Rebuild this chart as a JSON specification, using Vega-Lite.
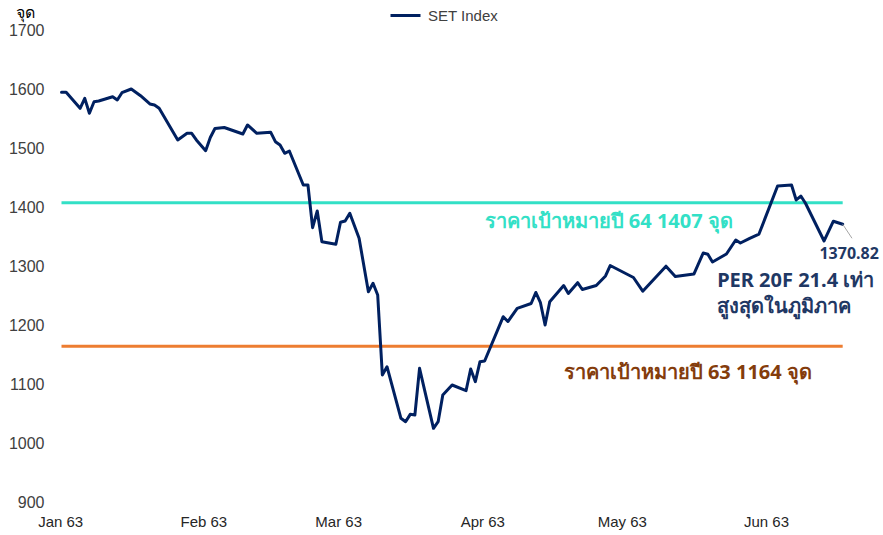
{
  "$schema": "https://vega.github.io/schema/vega-lite/v6.json",
  "width": 823,
  "height": 472,
  "autosize": {"type": "none"},
  "padding": {"left": 60, "top": 30, "right": 0, "bottom": 33},
  "background": "white",
  "config": {"view": {"stroke": null}, "font": "Liberation Sans"},
  "datasets": {
    "set": [
      {"date": "2020-01-02", "close": 1594.4},
      {"date": "2020-01-03", "close": 1594.4},
      {"date": "2020-01-06", "close": 1567.3},
      {"date": "2020-01-07", "close": 1584.2},
      {"date": "2020-01-08", "close": 1558.8},
      {"date": "2020-01-09", "close": 1578.5},
      {"date": "2020-01-10", "close": 1579.7},
      {"date": "2020-01-13", "close": 1586.9},
      {"date": "2020-01-14", "close": 1581.4},
      {"date": "2020-01-15", "close": 1593.7},
      {"date": "2020-01-17", "close": 1600.0},
      {"date": "2020-01-19", "close": 1588.6},
      {"date": "2020-01-21", "close": 1574.6},
      {"date": "2020-01-22", "close": 1572.9},
      {"date": "2020-01-23", "close": 1567.3},
      {"date": "2020-01-27", "close": 1513.6},
      {"date": "2020-01-29", "close": 1524.9},
      {"date": "2020-01-30", "close": 1524.9},
      {"date": "2020-01-31", "close": 1513.6},
      {"date": "2020-02-02", "close": 1495.4},
      {"date": "2020-02-03", "close": 1517.8},
      {"date": "2020-02-04", "close": 1533.1},
      {"date": "2020-02-06", "close": 1534.7},
      {"date": "2020-02-10", "close": 1523.7},
      {"date": "2020-02-11", "close": 1539.0},
      {"date": "2020-02-13", "close": 1524.9},
      {"date": "2020-02-16", "close": 1526.6},
      {"date": "2020-02-17", "close": 1510.7},
      {"date": "2020-02-18", "close": 1505.1},
      {"date": "2020-02-19", "close": 1491.0},
      {"date": "2020-02-20", "close": 1494.9},
      {"date": "2020-02-23", "close": 1437.3},
      {"date": "2020-02-24", "close": 1437.3},
      {"date": "2020-02-25", "close": 1364.9},
      {"date": "2020-02-26", "close": 1393.2},
      {"date": "2020-02-27", "close": 1341.2},
      {"date": "2020-03-01", "close": 1336.8},
      {"date": "2020-03-02", "close": 1374.1},
      {"date": "2020-03-03", "close": 1376.3},
      {"date": "2020-03-04", "close": 1389.3},
      {"date": "2020-03-06", "close": 1346.9},
      {"date": "2020-03-08", "close": 1256.4},
      {"date": "2020-03-09", "close": 1270.7},
      {"date": "2020-03-10", "close": 1250.8},
      {"date": "2020-03-11", "close": 1115.3},
      {"date": "2020-03-12", "close": 1129.3},
      {"date": "2020-03-15", "close": 1041.9},
      {"date": "2020-03-16", "close": 1036.1},
      {"date": "2020-03-17", "close": 1048.6},
      {"date": "2020-03-18", "close": 1047.5},
      {"date": "2020-03-19", "close": 1126.6},
      {"date": "2020-03-22", "close": 1024.9},
      {"date": "2020-03-23", "close": 1036.1},
      {"date": "2020-03-24", "close": 1081.4},
      {"date": "2020-03-26", "close": 1098.3},
      {"date": "2020-03-29", "close": 1088.6},
      {"date": "2020-03-30", "close": 1125.4},
      {"date": "2020-03-31", "close": 1103.9},
      {"date": "2020-04-01", "close": 1137.8},
      {"date": "2020-04-02", "close": 1139.0},
      {"date": "2020-04-06", "close": 1214.1},
      {"date": "2020-04-07", "close": 1205.9},
      {"date": "2020-04-09", "close": 1228.3},
      {"date": "2020-04-12", "close": 1236.4},
      {"date": "2020-04-13", "close": 1255.1},
      {"date": "2020-04-14", "close": 1237.8},
      {"date": "2020-04-15", "close": 1200.0},
      {"date": "2020-04-16", "close": 1239.5},
      {"date": "2020-04-19", "close": 1266.9},
      {"date": "2020-04-20", "close": 1253.4},
      {"date": "2020-04-22", "close": 1271.7},
      {"date": "2020-04-23", "close": 1260.2},
      {"date": "2020-04-26", "close": 1266.9},
      {"date": "2020-04-28", "close": 1283.1},
      {"date": "2020-04-29", "close": 1300.8},
      {"date": "2020-05-04", "close": 1280.5},
      {"date": "2020-05-06", "close": 1257.3},
      {"date": "2020-05-11", "close": 1299.7},
      {"date": "2020-05-13", "close": 1282.2},
      {"date": "2020-05-17", "close": 1286.4},
      {"date": "2020-05-19", "close": 1322.0},
      {"date": "2020-05-20", "close": 1319.8},
      {"date": "2020-05-21", "close": 1306.8},
      {"date": "2020-05-24", "close": 1320.3},
      {"date": "2020-05-26", "close": 1344.1},
      {"date": "2020-05-27", "close": 1339.0},
      {"date": "2020-05-29", "close": 1346.9},
      {"date": "2020-05-31", "close": 1354.2},
      {"date": "2020-06-04", "close": 1435.6},
      {"date": "2020-06-07", "close": 1437.3},
      {"date": "2020-06-08", "close": 1411.9},
      {"date": "2020-06-09", "close": 1418.6},
      {"date": "2020-06-10", "close": 1406.3},
      {"date": "2020-06-14", "close": 1342.4},
      {"date": "2020-06-16", "close": 1375.9},
      {"date": "2020-06-18", "close": 1370.82}
    ],
    "targets": [
      {"year": "64", "value": 1407, "start": "2020-01-02", "end": "2020-06-18", "label": "ราคาเป้าหมายปี 64 1407 จุด", "labelDate": "2020-04-02", "labelValue": 1374},
      {"year": "63", "value": 1164, "start": "2020-01-02", "end": "2020-06-18", "label": "ราคาเป้าหมายปี 63 1164 จุด", "labelDate": "2020-04-19", "labelValue": 1118}
    ],
    "notes": [
      {"label": "PER 20F 21.4 เท่า", "date": "2020-05-22", "value": 1274},
      {"label": "สูงสุดในภูมิภาค", "date": "2020-05-22", "value": 1230}
    ],
    "last": [
      {"label": "1370.82", "date": "2020-06-18", "value": 1370.82, "labelDate": "2020-06-13", "labelValue": 1321, "tipDate": "2020-06-20", "tipValue": 1347}
    ]
  },
  "layer": [
    {
      "data": {"name": "targets"},
      "transform": [{"filter": "datum.year === '64'"}],
      "mark": {"type": "rule", "color": "#33E0C6", "strokeWidth": 3},
      "encoding": {
        "x": {"field": "start", "type": "temporal", "title": null},
        "x2": {"field": "end"},
        "y": {"field": "value", "type": "quantitative", "title": "จุด"}
      }
    },
    {
      "data": {"name": "targets"},
      "transform": [{"filter": "datum.year === '63'"}],
      "mark": {"type": "rule", "color": "#ED7D31", "strokeWidth": 3},
      "encoding": {
        "x": {"field": "start", "type": "temporal", "title": null},
        "x2": {"field": "end"},
        "y": {"field": "value", "type": "quantitative", "title": "จุด"}
      }
    },
    {
      "data": {"name": "set"},
      "mark": {"type": "line", "strokeWidth": 3, "strokeJoin": "round", "strokeCap": "round"},
      "encoding": {
        "x": {
          "field": "date", "type": "temporal", "title": null,
          "scale": {"type": "utc", "domain": [{"year": 2020, "month": 1, "date": 1, "hours": 16, "minutes": 15, "utc": true}, {"year": 2020, "month": 6, "date": 26, "hours": 16, "minutes": 5, "utc": true}]},
          "axis": {
            "values": [
              {"year": 2020, "month": 1, "date": 1, "hours": 17, "utc": true},
              {"year": 2020, "month": 2, "date": 1, "hours": 12, "utc": true},
              {"year": 2020, "month": 3, "date": 1, "hours": 12, "utc": true},
              {"year": 2020, "month": 4, "date": 1, "hours": 12, "utc": true},
              {"year": 2020, "month": 5, "date": 1, "hours": 12, "utc": true},
              {"year": 2020, "month": 6, "date": 1, "hours": 12, "utc": true}
            ],
            "labelExpr": "utcFormat(datum.value, '%b') + ' ' + ((utcyear(datum.value) + 543) % 100)",
            "domain": false, "ticks": false, "grid": false,
            "labelFont": "Liberation Sans", "labelFontSize": 15, "labelColor": "#262626",
            "labelPadding": 12, "labelFlush": false, "labelOverlap": false
          }
        },
        "y": {
          "field": "close", "type": "quantitative", "title": "จุด",
          "scale": {"domain": [900, 1700], "nice": false, "zero": false},
          "axis": {
            "values": [900, 1000, 1100, 1200, 1300, 1400, 1500, 1600, 1700],
            "format": "d",
            "domain": false, "ticks": false, "grid": false,
            "labelFont": "Liberation Sans", "labelFontSize": 16, "labelColor": "#404040",
            "labelPadding": 16,
            "titleAngle": 0, "titleAlign": "left", "titleBaseline": "middle",
            "titleX": -45, "titleY": -18, "titleFontSize": 16, "titleFontWeight": "normal", "titleColor": "#000000"
          }
        },
        "color": {
          "datum": "SET Index",
          "scale": {"range": ["#002060"]},
          "legend": {
            "orient": "none", "legendX": 329, "legendY": -31, "title": null,
            "symbolType": "stroke", "symbolSize": 900, "symbolStrokeWidth": 3,
            "labelFont": "Liberation Sans", "labelFontSize": 15, "labelColor": "#404040", "labelOffset": 6
          }
        }
      }
    },
    {
      "data": {"name": "last"},
      "mark": {"type": "rule", "color": "#A6A6A6", "strokeWidth": 1},
      "encoding": {
        "x": {"field": "date", "type": "temporal", "title": null},
        "x2": {"field": "tipDate"},
        "y": {"field": "value", "type": "quantitative", "title": "จุด"},
        "y2": {"field": "tipValue"}
      }
    },
    {
      "data": {"name": "targets"},
      "transform": [{"filter": "datum.year === '64'"}],
      "mark": {"type": "text", "align": "left", "baseline": "middle", "font": "Noto Sans", "fontSize": 20, "fontWeight": "bold", "color": "#33E0C6"},
      "encoding": {
        "x": {"field": "labelDate", "type": "temporal", "title": null},
        "y": {"field": "labelValue", "type": "quantitative", "title": "จุด"},
        "text": {"field": "label"}
      }
    },
    {
      "data": {"name": "targets"},
      "transform": [{"filter": "datum.year === '63'"}],
      "mark": {"type": "text", "align": "left", "baseline": "middle", "font": "Noto Sans", "fontSize": 20, "fontWeight": "bold", "color": "#843C0C"},
      "encoding": {
        "x": {"field": "labelDate", "type": "temporal", "title": null},
        "y": {"field": "labelValue", "type": "quantitative", "title": "จุด"},
        "text": {"field": "label"}
      }
    },
    {
      "data": {"name": "notes"},
      "mark": {"type": "text", "align": "left", "baseline": "middle", "font": "Noto Sans", "fontSize": 20, "fontWeight": "bold", "color": "#1F3864"},
      "encoding": {
        "x": {"field": "date", "type": "temporal", "title": null},
        "y": {"field": "value", "type": "quantitative", "title": "จุด"},
        "text": {"field": "label"}
      }
    },
    {
      "data": {"name": "last"},
      "mark": {"type": "text", "align": "left", "baseline": "middle", "font": "Noto Sans", "fontSize": 16, "fontWeight": "bold", "color": "#1F3864"},
      "encoding": {
        "x": {"field": "labelDate", "type": "temporal", "title": null},
        "y": {"field": "labelValue", "type": "quantitative", "title": "จุด"},
        "text": {"field": "label"}
      }
    }
  ]
}
